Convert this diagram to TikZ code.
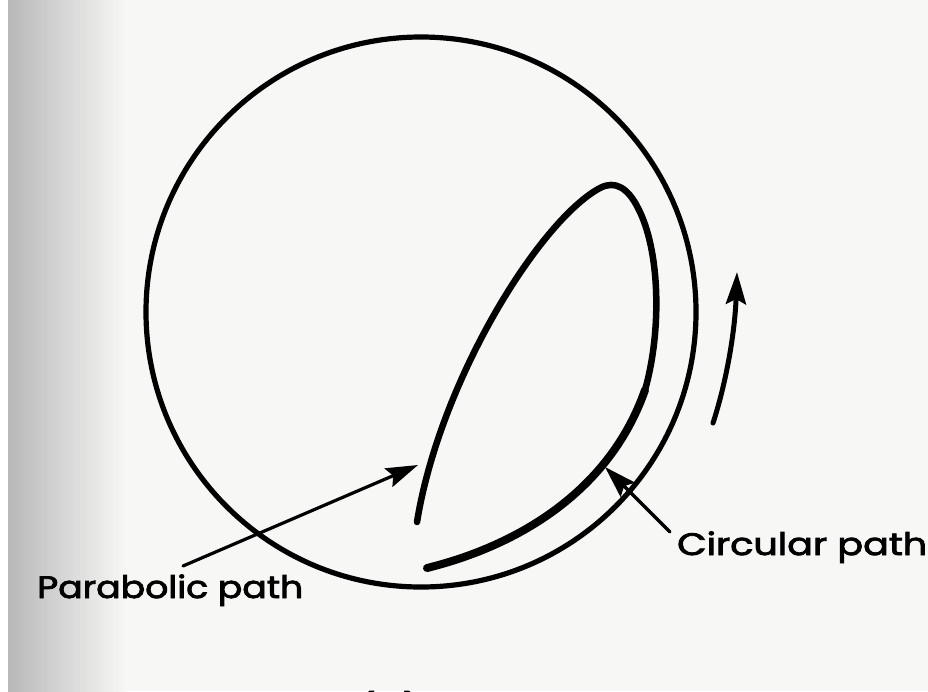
\documentclass[tikz,border=0pt]{standalone}
\usepackage{fontspec}
\setmainfont{Poppins}
\newfontfamily\lblfont{Poppins}[FakeBold=2.5]
\usetikzlibrary{arrows.meta}
\definecolor{paper}{HTML}{F7F7F6}
\definecolor{band}{HTML}{B8B8B8}
\tikzset{
  ink/.style={draw=black, line cap=round, line join=round},
  head/.style={-{Stealth[length=32pt,width=20pt,inset=5pt]}},
  lbl/.style={inner sep=0pt, anchor=base west, font=\lblfont\fontsize{31}{31}\selectfont}
}
\begin{document}
\begin{tikzpicture}[x=1pt,y=-1pt]
\useasboundingbox (0,0) rectangle (928,691);
\clip (0,0) rectangle (928,691);
\fill[paper] (0,0) rectangle (928,691);
\shade[left color=band, right color=paper] (8,0) rectangle (125,691);
\fill[white] (0,0) rectangle (8,691);
% outer circle
\coordinate (c) at (421,312);
\draw[ink, line width=5.2pt] (c) circle[radius=275];
% parabolic / circular path
\coordinate (p0) at (417,522);
\coordinate (p1) at (600,188);
\coordinate (p2) at (638,208);
\coordinate (p3) at (645,390);
\coordinate (p4) at (427,568);
\draw[ink, line width=6.5pt] (p0) .. controls (440,380) and (540,220) .. (p1)
  .. controls (615,180) and (628,188) .. (p2)
  .. controls (660,250) and (662,330) .. (p3)
  .. controls (610,490) and (520,545) .. (p4);
\draw[ink, line width=8pt] (p3) .. controls (610,490) and (520,545) .. (p4);
% labels
\node[lbl] (plab) at (37,598) {\resizebox{266pt}{\height}{Parabolic path}};
\node[lbl] (clab) at (677,555) {\resizebox{250pt}{\height}{Circular path}};
\node[lbl] (alab) at (356,720) {\resizebox{66pt}{\height}{(a)}};
% pointers
\coordinate (ptail) at (183,566);
\coordinate (ptip) at (418,465);
\draw[ink, line width=3.2pt, head] (ptail) -- (ptip);
\coordinate (ctail) at (670,532);
\coordinate (ctip) at (605,467);
\draw[ink, line width=3.2pt, head] (ctail) -- (ctip);
% rotation arrow
\coordinate (rtail) at (713,423);
\coordinate (rtip) at (737,272);
\draw[ink, line width=5pt, head] (rtail) .. controls (727,380) and (735,330) .. (rtip);
\end{tikzpicture}
\end{document}
